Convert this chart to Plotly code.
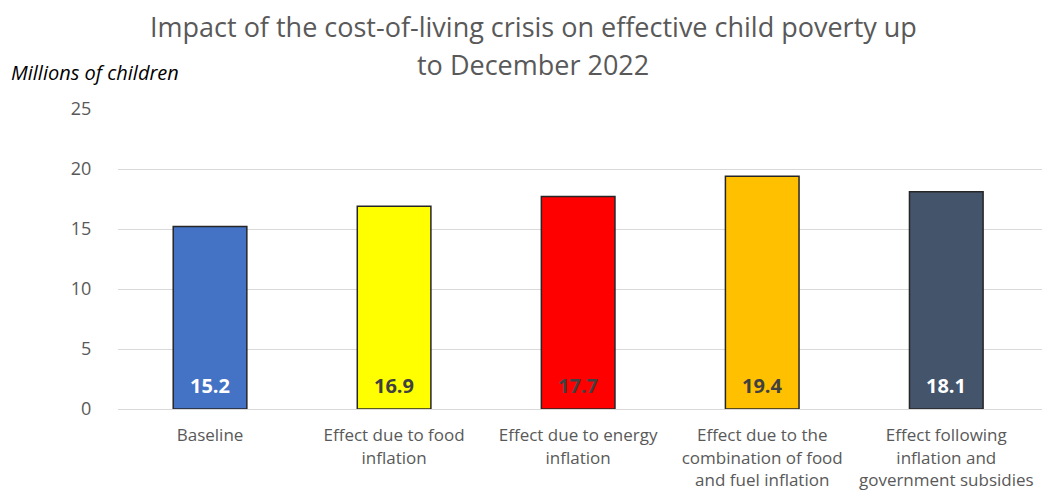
import plotly.graph_objects as go

categories = [
    "Baseline",
    "Effect due to food<br>inflation",
    "Effect due to energy<br>inflation",
    "Effect due to the<br>combination of food<br>and fuel inflation",
    "Effect following<br>inflation and<br>government subsidies",
]
values = [15.2, 16.9, 17.7, 19.4, 18.1]
bar_colors = ["#4472C4", "#FFFF00", "#FF0000", "#FFC000", "#44546A"]
label_colors = ["#FFFFFF", "#404040", "#404040", "#404040", "#FFFFFF"]
y_ticks = [0, 5, 10, 15, 20, 25]
title_lines = ["Impact of the cost-of-living crisis on effective child poverty up", "to December 2022"]
y_title = "Millions of children"

FONT = "Open Sans"

fig = go.Figure()
fig.add_trace(go.Bar(
    x=categories,
    y=values,
    marker=dict(color=bar_colors, line=dict(color="#262626", width=1.5)),
    width=0.4,
    hoverinfo="x+y",
))

annotations = []
for cat, v, c in zip(categories, values, label_colors):
    annotations.append(dict(
        x=cat, y=0, xref="x", yref="y", text=f"<b>{v}</b>", showarrow=False,
        yanchor="middle", yshift=24, font=dict(family=FONT, size=20, color=c),
    ))

annotations.append(dict(
    x=533, y=27, xref="paper", yref="paper", text=title_lines[0], showarrow=False,
    font=dict(family=FONT, size=27, color="#595959"),
))
annotations.append(dict(
    x=533, y=65, xref="paper", yref="paper", text=title_lines[1], showarrow=False,
    font=dict(family=FONT, size=27, color="#595959"),
))
annotations.append(dict(
    x=9, y=73, xref="paper", yref="paper", text=f"<i>{y_title}</i>", showarrow=False,
    xanchor="left", font=dict(family=FONT, size=20, color="#000000"),
))

# convert pixel-positioned text annotations to paper coords
W, H = 1042, 492
ML, MR, MT, MB = 118, 0, 109, 83
pw, ph = W - ML - MR, H - MT - MB
for a in annotations:
    if a["xref"] == "paper":
        px, py = a["x"], a["y"]
        a["x"] = (px - ML) / pw
        a["y"] = (H - MB - py) / ph
        a["yanchor"] = "middle"
        a.setdefault("xanchor", "center")

fig.update_layout(
    width=W, height=H,
    margin=dict(l=ML, r=MR, t=MT, b=MB, autoexpand=False),
    plot_bgcolor="white", paper_bgcolor="white",
    showlegend=False,
    annotations=annotations,
    bargap=0.6,
    font=dict(family=FONT, color="#595959"),
)
fig.update_xaxes(
    showgrid=False, showline=False, zeroline=False, automargin=False,
    tickfont=dict(family=FONT, size=17, color="#595959"),
    ticks="outside", ticklen=11, tickcolor="rgba(0,0,0,0)",
    range=[-0.5, 4.52],
)
fig.update_yaxes(
    range=[0, 25], tickvals=y_ticks, showgrid=True, gridcolor="#D9D9D9", gridwidth=1,
    zeroline=True, zerolinecolor="#D9D9D9", zerolinewidth=1, showline=False, automargin=False,
    tickfont=dict(family=FONT, size=18, color="#595959"),
    ticks="outside", ticklen=22, tickcolor="rgba(0,0,0,0)",
)

fig.write_html("out.html")
